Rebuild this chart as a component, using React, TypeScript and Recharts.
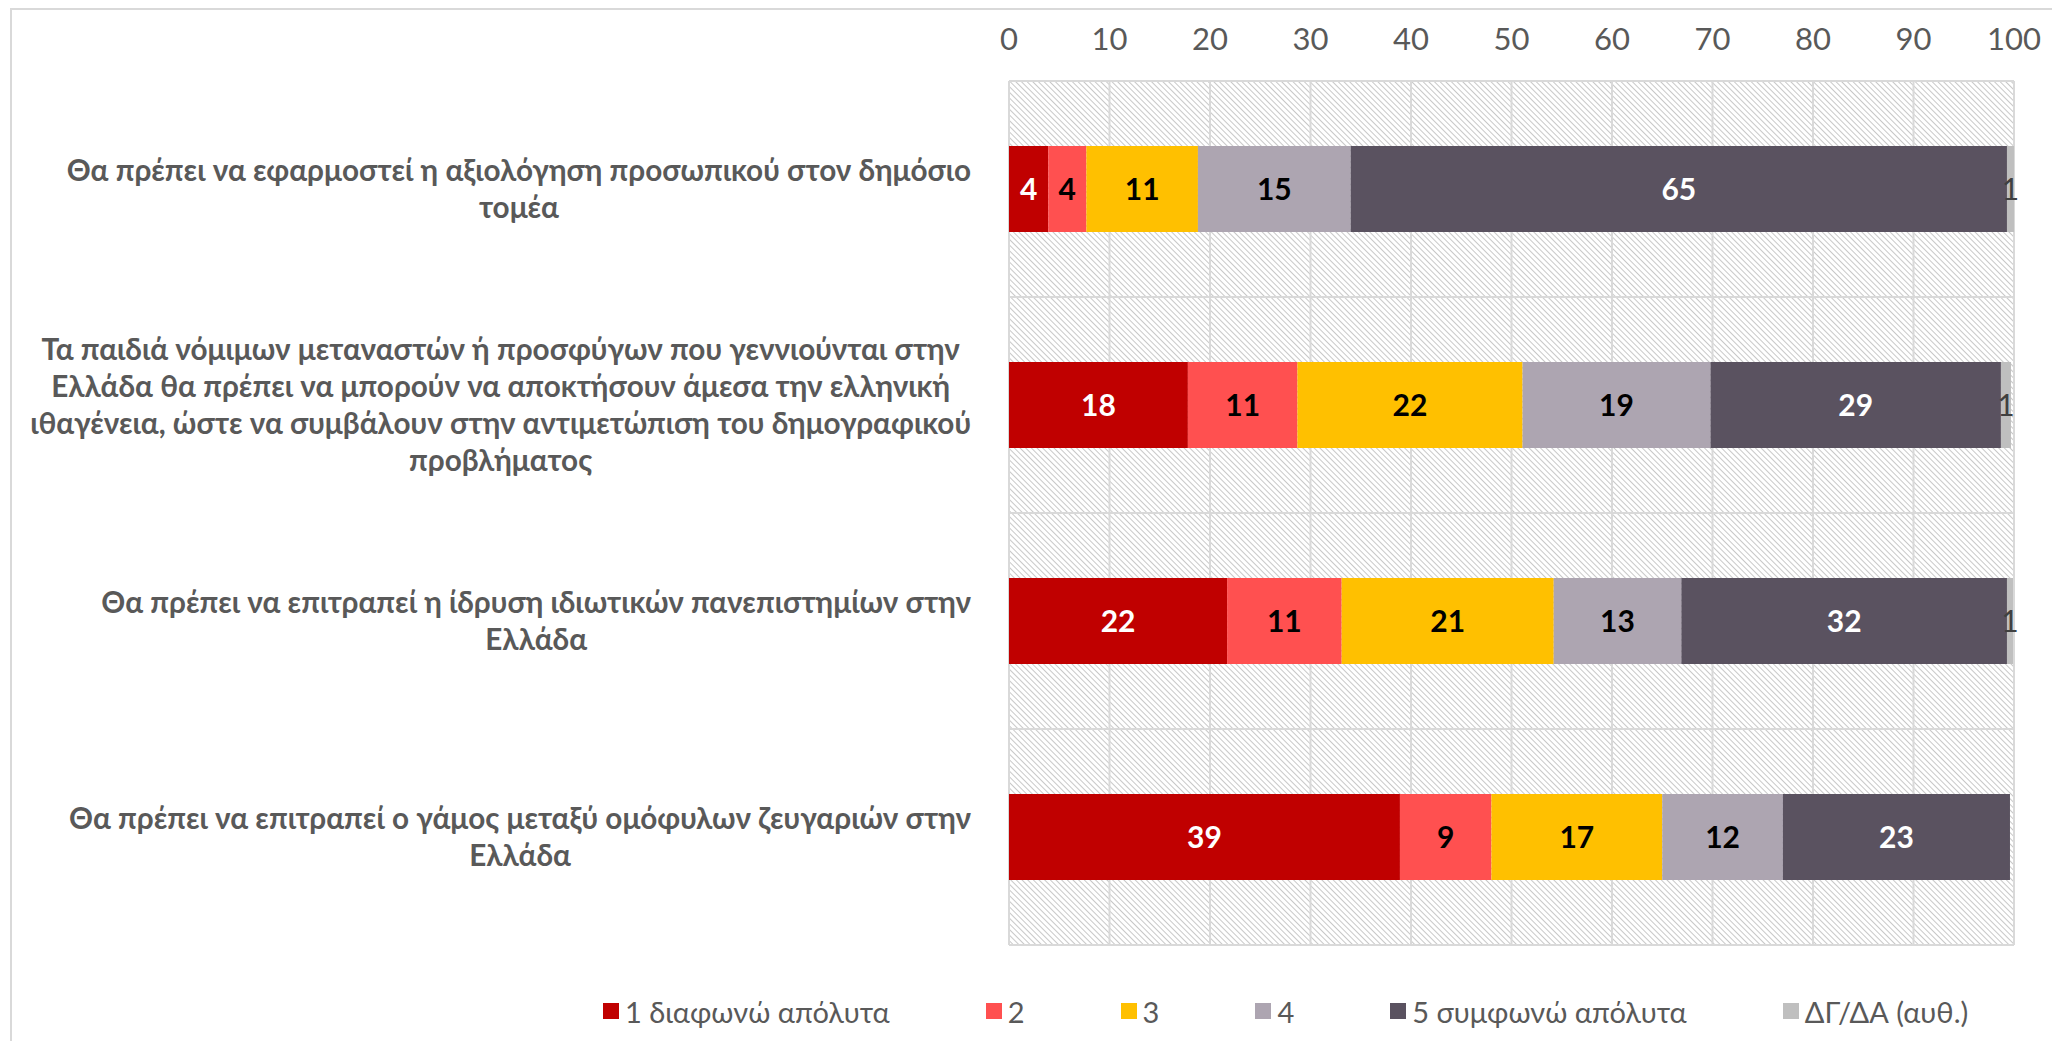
import React from 'react';
import { BarChart, Bar, XAxis, YAxis, CartesianGrid, LabelList, Legend } from 'recharts';

const categories = [
  'Θα πρέπει να εφαρμοστεί η αξιολόγηση προσωπικού στον δημόσιο\nτομέα',
  'Τα παιδιά νόμιμων μεταναστών ή προσφύγων που γεννιούνται στην\nΕλλάδα θα πρέπει να μπορούν να αποκτήσουν άμεσα την ελληνική\nιθαγένεια, ώστε να συμβάλουν στην αντιμετώπιση του δημογραφικού\nπροβλήματος',
  'Θα πρέπει να επιτραπεί η ίδρυση ιδιωτικών πανεπιστημίων στην\nΕλλάδα',
  'Θα πρέπει να επιτραπεί ο γάμος μεταξύ ομόφυλων ζευγαριών στην\nΕλλάδα',
];

const seriesNames = ['1 διαφωνώ απόλυτα', '2', '3', '4', '5 συμφωνώ απόλυτα', 'ΔΓ/ΔΑ (αυθ.)'];
const s1 = [3.9, 17.8, 21.7, 38.9];
const s2 = [3.8, 10.9, 11.4, 9.1];
const s3 = [11.1, 22.4, 21.1, 17.0];
const s4 = [15.2, 18.7, 12.7, 12.0];
const s5 = [65.3, 28.9, 32.4, 22.6];
const s6 = [0.7, 1.0, 0.6, 0];
const xTicks = [0, 10, 20, 30, 40, 50, 60, 70, 80, 90, 100];

const seriesColors = ['#C00000', '#FF5050', '#FFC000', '#ADA5B1', '#5A5260', '#BFBFBF'];
const labelColors = ['#FFFFFF', '#000000', '#000000', '#000000', '#FFFFFF', '#404040'];
const labelWeights = ['bold', 'bold', 'bold', 'bold', 'bold', 'normal'];

const seriesValues = [s1, s2, s3, s4, s5, s6];
const keys = ['k1', 'k2', 'k3', 'k4', 'k5', 'k6'];

const data = categories.map((name, i) => {
  const row: any = { name };
  keys.forEach((k, j) => (row[k] = seriesValues[j][i]));
  return row;
});

const FONT = "Lato, 'Noto Sans', sans-serif";
const TEXT = '#595959';

let canvasCtx: CanvasRenderingContext2D | null = null;
function measure(text: string, font: string) {
  if (!canvasCtx) {
    const c = document.createElement('canvas');
    canvasCtx = c.getContext('2d');
  }
  if (!canvasCtx) return text.length * 15;
  canvasCtx.font = font;
  return canvasCtx.measureText(text).width;
}

const CatTick = (props: any) => {
  const { x, y, payload } = props;
  const lines = String(payload.value).split('\n');
  const fs = 29.7;
  const lh = 37;
  const font = `bold ${fs}px ${FONT}`;
  const maxW = Math.max(...lines.map((l) => measure(l, font)));
  const cx = x - maxW / 2;
  return (
    <g>
      {lines.map((l, i) => (
        <text
          key={i}
          x={cx}
          y={y + (i - (lines.length - 1) / 2) * lh}
          dy="0.35em"
          textAnchor="middle"
          fill={TEXT}
          fontFamily={FONT}
          fontWeight="bold"
          fontSize={fs}
        >
          {l}
        </text>
      ))}
    </g>
  );
};

const renderLegend = (props: any) => {
  const payload = props.payload || [];
  return (
    <div
      style={{
        display: 'flex',
        justifyContent: 'flex-start',
        alignItems: 'center',
        height: 40,
        fontFamily: FONT,
        fontSize: 29,
        color: TEXT,
        paddingLeft: 594,
      }}
    >
      {payload.map((p: any, i: number) => (
        <div key={i} style={{ display: 'flex', alignItems: 'center', marginRight: i < payload.length - 1 ? 96 : 0 }}>
          <div style={{ width: 16, height: 16, background: p.color, marginRight: 6 }} />
          <span>{p.value}</span>
        </div>
      ))}
    </div>
  );
};

export default function App() {
  return (
    <div style={{ position: 'absolute', left: 0, top: 0, width: 2052, height: 1041, overflow: 'hidden', background: '#fff' }}>
      <div
        style={{
          position: 'absolute',
          left: 10,
          top: 8,
          width: 2100,
          height: 1100,
          border: '2px solid #D9D9D9',
          boxSizing: 'border-box',
        }}
      />
      <div style={{ position: 'absolute', left: 0, top: 0 }}>
        <BarChart
          width={2052}
          height={1041}
          data={data}
          layout="vertical"
          margin={{ top: 9, right: 38, bottom: 56, left: 9 }}
          barSize={86}
        >
          <defs>
            <pattern id="hatch" width="4" height="4" patternUnits="userSpaceOnUse" patternTransform="rotate(-45)">
              <rect width="4" height="4" fill="#FFFFFF" />
              <line x1="0.5" y1="0" x2="0.5" y2="4" stroke="#C8C8C8" strokeWidth="1" />
            </pattern>
          </defs>
          <CartesianGrid
            fill="url(#hatch)"
            fillOpacity={1}
            stroke="#D9D9D9"
            strokeWidth={2}
            vertical={true}
            horizontal={true}
            horizontalCoordinatesGenerator={(args: any) => {
              const o = args.offset;
              return [0, 1, 2, 3, 4].map((i) => o.top + (i * o.height) / 4);
            }}
          />
          <XAxis
            type="number"
            orientation="top"
            domain={[0, 100]}
            ticks={xTicks}
            interval={0}
            axisLine={false}
            tickLine={false}
            tickSize={0}
            tickMargin={31}
            height={72}
            tick={{ fill: TEXT, fontSize: 31, fontFamily: FONT }}
          />
          <YAxis
            type="category"
            dataKey="name"
            width={1000}
            axisLine={false}
            tickLine={false}
            tickSize={0}
            tickMargin={38}
            tick={<CatTick />}
          />
          {keys.map((k, j) => (
            <Bar key={k} dataKey={k} name={seriesNames[j]} stackId="a" fill={seriesColors[j]} isAnimationActive={false}>
              <LabelList
                dataKey={k}
                position="center"
                fill={labelColors[j]}
                fontFamily={FONT}
                fontSize={30}
                fontWeight={labelWeights[j]}
                formatter={(v: any) => (v > 0 ? String(Math.round(v)) : '')}
              />
            </Bar>
          ))}
          <Legend verticalAlign="bottom" content={renderLegend} wrapperStyle={{ bottom: 10 }} />
        </BarChart>
      </div>
    </div>
  );
}
